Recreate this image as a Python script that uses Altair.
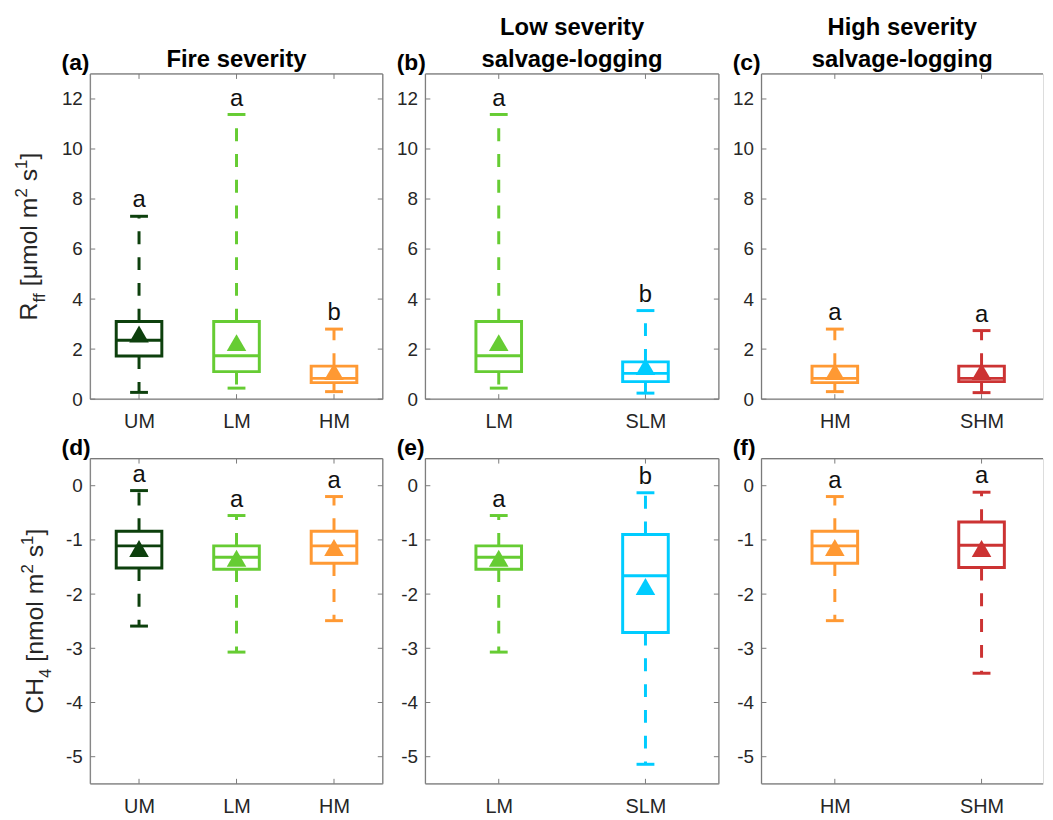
import altair as alt
import pandas as pd

FONT = "Liberation Sans"
FRAME = "#7a7a7a"
TXT = "#262626"

groups = ["UM", "LM", "HM", "SLM", "SHM"]
colors = ["#0d400d", "#66cc33", "#ff9933", "#00ccff", "#cc3333"]

# R_ff statistics per group: lower whisker, Q1, median, Q3, upper whisker, mean
rff_low = [0.27, 0.44, 0.30, 0.24, 0.26]
rff_q1 = [1.72, 1.10, 0.66, 0.70, 0.70]
rff_med = [2.35, 1.73, 0.83, 1.03, 0.83]
rff_q3 = [3.10, 3.10, 1.32, 1.49, 1.32]
rff_high = [7.31, 11.38, 2.80, 3.54, 2.74]
rff_mean = [2.60, 2.26, 1.10, 1.30, 1.10]

# CH4 statistics per group
ch4_low = [-2.59, -3.07, -2.49, -5.14, -3.46]
ch4_q1 = [-1.52, -1.54, -1.43, -2.71, -1.51]
ch4_med = [-1.11, -1.32, -1.11, -1.66, -1.10]
ch4_q3 = [-0.84, -1.11, -0.84, -0.90, -0.67]
ch4_high = [-0.09, -0.55, -0.20, -0.13, -0.12]
ch4_mean = [-1.16, -1.34, -1.14, -1.86, -1.16]

panel_groups = [["UM", "LM", "HM"], ["LM", "SLM"], ["HM", "SHM"]]
rff_letters = [["a", "a", "b"], ["a", "b"], ["a", "a"]]
ch4_letters = [["a", "a", "a"], ["a", "b"], ["a", "a"]]
top_tags = ["(a)", "(b)", "(c)"]
bottom_tags = ["(d)", "(e)", "(f)"]
titles = [["Fire severity"], ["Low severity", "salvage-logging"], ["High severity", "salvage-logging"]]
rff_ticks = [0, 2, 4, 6, 8, 10, 12]
ch4_ticks = [-5, -4, -3, -2, -1, 0]

# y-axis title pieces: (text, kind) with kind n=normal, b=subscript, p=superscript
rff_title_parts = [("R", "n"), ("ff", "b"), (" [μmol m", "n"), ("2", "p"), (" s", "n"), ("1", "p"), ("]", "n")]
ch4_title_parts = [("CH", "n"), ("4", "b"), (" [nmol m", "n"), ("2", "p"), (" s", "n"), ("1", "p"), ("]", "n")]

widths = [295, 296, 284]
xmax = [3.5, 2.5, 0.5 + 284 / 148]
H = 328

cscale = alt.Scale(domain=groups, range=colors)

AW = {"R": 722, "f": 278, "[": 278, "μ": 576, "m": 833, "o": 556, "l": 222, " ": 278,
      "2": 556, "s": 500, "1": 556, "]": 278, "C": 722, "H": 722, "4": 556, "n": 556}


def twidth(s, fs):
    return sum(AW.get(c, 556) for c in s) / 1000.0 * fs


def title_layers(parts, base_x, center_y, fs=25, sfs=17):
    sizes = [fs if k == "n" else sfs for _, k in parts]
    total = sum(twidth(t, s) for (t, _), s in zip(parts, sizes))
    y = center_y + total / 2
    out = []
    for (t, k), s in zip(parts, sizes):
        lead = len(t) - len(t.lstrip(" "))
        y -= twidth(" " * lead, s)
        t = t.lstrip(" ")
        xx = base_x + (8 if k == "b" else (-10 if k == "p" else 0))
        out.append(alt.Chart(pd.DataFrame({"t": [t]})).mark_text(
            fontSize=s, font=FONT, color=TXT, align="left", baseline="alphabetic",
            angle=270).encode(text="t:N", x=alt.value(xx), y=alt.value(y)))
        y -= twidth(t, s)
    return out


def panel(stats, cats, letters, W, xm, ydom, yticks, tag, tlines, ytitle, open_right=False):
    low, q1, med, q3, high, mean = stats
    rows = []
    for i, g in enumerate(cats):
        k = groups.index(g)
        rows.append(dict(pos=i + 1, group=g, low=low[k], q1=q1[k], med=med[k],
                         q3=q3[k], high=high[k], mean=mean[k], letter=letters[i]))
    df = pd.DataFrame(rows)
    xsc = alt.Scale(domain=[0.5, xm], nice=False, zero=False)
    ysc = alt.Scale(domain=ydom, nice=False, zero=False)
    labexpr = "[" + ",".join("'%s'" % c for c in cats) + "][datum.value - 1]"
    xax = alt.Axis(values=list(range(1, len(cats) + 1)), labelExpr=labexpr, ticks=False,
                   domain=False, grid=False, labelFontSize=20, labelPadding=13, title=None,
                   labelColor=TXT, labelFont=FONT)
    yax = alt.Axis(values=yticks, ticks=False, domain=False, grid=False, labelFontSize=19,
                   labelPadding=8, title=None, labelColor=TXT, labelFont=FONT,
                   labelExpr="'' + datum.value")
    X = alt.X("pos:Q", scale=xsc, axis=xax)
    col = alt.Color("group:N", scale=cscale, legend=None)
    base = alt.Chart(df)

    up = base.mark_rule(strokeWidth=3, strokeDash=[13, 13]).encode(
        x=X, y=alt.Y("q3:Q", scale=ysc, axis=yax), y2="high:Q", color=col)
    dn = base.mark_rule(strokeWidth=3, strokeDash=[13, 13]).encode(
        x=X, y=alt.Y("q1:Q", scale=ysc, axis=yax), y2="low:Q", color=col)
    caps = base.transform_fold(["low", "high"], as_=["k", "v"]).mark_rule(
        strokeWidth=3, xOffset=-9, x2Offset=9).encode(
        x=X, x2="pos:Q", y=alt.Y("v:Q", scale=ysc, axis=yax), color=col)
    box = base.mark_rect(filled=False, strokeWidth=3, xOffset=-23, x2Offset=23).encode(
        x=X, x2="pos:Q", y=alt.Y("q1:Q", scale=ysc, axis=yax), y2="q3:Q", color=col)
    medl = base.mark_rule(strokeWidth=3, xOffset=-23, x2Offset=23).encode(
        x=X, x2="pos:Q", y=alt.Y("med:Q", scale=ysc, axis=yax), color=col)
    mn = base.mark_point(shape="triangle-up", filled=True, size=390, opacity=1).encode(
        x=X, y=alt.Y("mean:Q", scale=ysc, axis=yax), color=col)
    let = base.mark_text(fontSize=24, font=FONT, color="#111111", dy=-9,
                         baseline="alphabetic").encode(
        x=X, y=alt.Y("high:Q", scale=ysc, axis=yax), text="letter:N")

    tdf = alt.Chart(pd.DataFrame({"v": yticks}))
    ytl = tdf.mark_rule(color=FRAME, strokeWidth=1).encode(
        y=alt.Y("v:Q", scale=ysc, axis=yax), x=alt.value(0), x2=alt.value(5))
    ytr = tdf.mark_rule(color=FRAME, strokeWidth=1).encode(
        y=alt.Y("v:Q", scale=ysc, axis=yax), x=alt.value(W - 5), x2=alt.value(W))
    xtb = base.mark_rule(color=FRAME, strokeWidth=1).encode(
        x=X, y=alt.value(H), y2=alt.value(H - 5))
    xtt = base.mark_rule(color=FRAME, strokeWidth=1).encode(
        x=X, y=alt.value(0), y2=alt.value(5))

    one0 = alt.Chart(pd.DataFrame({"t": [0]}))
    frame = [
        one0.mark_rule(color=FRAME, strokeWidth=1.2).encode(
            x=alt.value(0), x2=alt.value(W), y=alt.value(0)),
        one0.mark_rule(color=FRAME, strokeWidth=1.2).encode(
            x=alt.value(0), x2=alt.value(W), y=alt.value(H)),
        one0.mark_rule(color=FRAME, strokeWidth=1.2).encode(
            x=alt.value(0), y=alt.value(0), y2=alt.value(H)),
    ]
    if not open_right:
        frame.append(one0.mark_rule(color=FRAME, strokeWidth=1.2).encode(
            x=alt.value(W), y=alt.value(0), y2=alt.value(H)))
        frame.append(ytr)

    layers = [ytl, xtb, xtt] + frame + [up, dn, caps, box, medl, mn, let]

    one = alt.Chart(pd.DataFrame({"t": [tag]}))
    layers.append(one.mark_text(fontSize=23, font=FONT, fontWeight="bold", color="#000000",
                                align="left", baseline="alphabetic").encode(
        text="t:N", x=alt.value(-29), y=alt.value(-4)))
    ys = [-7] if len(tlines) == 1 else [-39, -7]
    for line, yy in zip(tlines, ys):
        layers.append(alt.Chart(pd.DataFrame({"t": [line]})).mark_text(
            fontSize=24, font=FONT, fontWeight="bold", color="#000000", align="center",
            baseline="alphabetic").encode(text="t:N", x=alt.value(W / 2), y=alt.value(yy)))
    if ytitle is not None:
        layers.extend(ytitle)

    return alt.layer(*layers).properties(width=W, height=H)


rff_stats = [rff_low, rff_q1, rff_med, rff_q3, rff_high, rff_mean]
ch4_stats = [ch4_low, ch4_q1, ch4_med, ch4_q3, ch4_high, ch4_mean]

rff_title = title_layers(rff_title_parts, -54, 164)
ch4_title = title_layers(ch4_title_parts, -48, 164)

panels = []
for j in range(3):
    panels.append(panel(rff_stats, panel_groups[j], rff_letters[j], widths[j], xmax[j], [0, 13],
                        rff_ticks, top_tags[j], titles[j], rff_title if j == 0 else None,
                        open_right=(j == 2)))
for j in range(3):
    panels.append(panel(ch4_stats, panel_groups[j], ch4_letters[j], widths[j], xmax[j], [-5.5, 0.5],
                        ch4_ticks, bottom_tags[j], [], ch4_title if j == 0 else None,
                        open_right=(j == 2)))

chart = alt.concat(*panels, columns=3, spacing=alt.RowColnumber(row=60, column=43),
                   bounds="flush").properties(
    padding={"left": 4, "top": 4, "right": 0, "bottom": 0}
).configure_view(strokeWidth=0, strokeOpacity=0).configure(background="white")

chart.save("out.html", embed_options={"renderer": "svg", "actions": False})
